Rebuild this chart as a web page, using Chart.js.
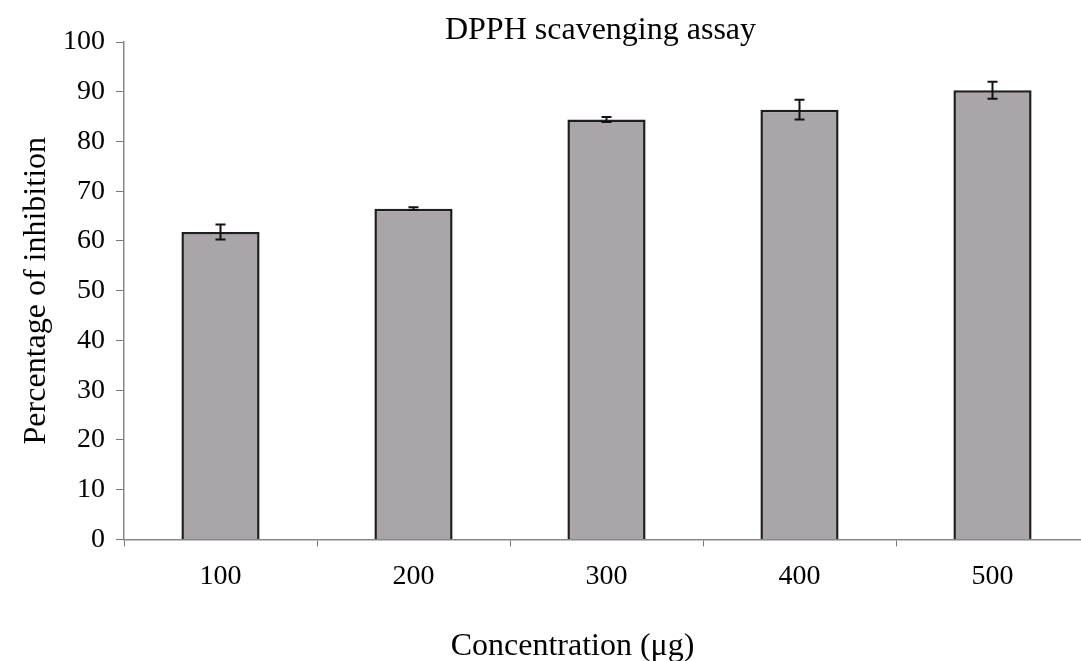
<!DOCTYPE html>
<html>
<head>
<meta charset="utf-8">
<script src="https://cdn.jsdelivr.net/npm/chart.js@4/dist/chart.umd.min.js"></script>
<style>
  html, body { margin: 0; padding: 0; background: #fff; overflow: hidden; }
  #wrap { width: 1090px; height: 661px; }
</style>
</head>
<body>
<div id="wrap"><canvas id="myChart"></canvas></div>
<script>
const labels = ['100', '200', '300', '400', '500'];
const inhibition = [61.8, 66.5, 84.4, 86.4, 90.3];
const errors = [1.5, 0.3, 0.5, 2.0, 1.7];
const yTicks = [0, 10, 20, 30, 40, 50, 60, 70, 80, 90, 100];

const serif = 'Liberation Serif';

// error bars + titles placed relative to the plot area
const extras = {
    id: 'extras',
    afterDatasetsDraw(chart) {
        const ctx = chart.ctx;
        const x = chart.scales.x;
        const y = chart.scales.y;
        ctx.save();
        ctx.strokeStyle = '#111';
        ctx.lineWidth = 2;
        inhibition.forEach((v, i) => {
            const px = x.getPixelForValue(i);
            const top = y.getPixelForValue(v + errors[i]);
            const bot = y.getPixelForValue(v - errors[i]);
            ctx.beginPath();
            ctx.moveTo(px, top); ctx.lineTo(px, bot);
            ctx.moveTo(px - 5, top); ctx.lineTo(px + 5, top);
            ctx.moveTo(px - 5, bot); ctx.lineTo(px + 5, bot);
            ctx.stroke();
        });
        const area = chart.chartArea;
        ctx.fillStyle = '#000';
        ctx.textAlign = 'center';
        ctx.textBaseline = 'alphabetic';
        ctx.font = '32px "' + serif + '"';
        ctx.fillText('DPPH scavenging assay', (area.left + area.right) / 2 - 6, 39);
        ctx.fillText('Concentration (μg)', (area.left + area.right) / 2 - 34, 655);
        ctx.restore();
    }
};

new Chart(document.getElementById('myChart'), {
    type: 'bar',
    data: {
        labels: labels,
        datasets: [{
            label: 'Percentage of inhibition',
            data: inhibition,
            backgroundColor: '#a9a5a9',
            borderColor: '#1e1e1e',
            borderWidth: 2.5,
            barPercentage: 0.405,
            categoryPercentage: 1
        }]
    },
    options: {
        responsive: true,
        maintainAspectRatio: false,
        animation: false,
        layout: {
            padding: { top: 42, right: 1, bottom: 55, left: 0 }
        },
        plugins: {
            legend: { display: false },
            tooltip: { enabled: false },
            title: { display: false }
        },
        scales: {
            x: {
                grid: {
                    display: true,
                    drawOnChartArea: false,
                    drawTicks: true,
                    tickLength: 7,
                    color: '#777'
                },
                border: { color: '#888', width: 1.5 },
                ticks: {
                    color: '#000',
                    padding: 13,
                    font: { family: serif, size: 28 }
                }
            },
            y: {
                min: 0,
                max: 100,
                afterBuildTicks(scale) {
                    scale.ticks = yTicks.map(v => ({ value: v }));
                },
                afterFit(scale) {
                    scale.width = 124;
                },
                grid: {
                    display: true,
                    drawOnChartArea: false,
                    drawTicks: true,
                    tickLength: 8,
                    color: '#777'
                },
                border: { color: '#888', width: 1.5 },
                ticks: {
                    color: '#000',
                    padding: 11,
                    font: { family: serif, size: 28 }
                },
                title: {
                    display: true,
                    text: 'Percentage of inhibition',
                    color: '#000',
                    padding: { top: 17, bottom: 0 },
                    font: { family: serif, size: 32 }
                }
            }
        }
    },
    plugins: [extras]
});
</script>
</body>
</html>
